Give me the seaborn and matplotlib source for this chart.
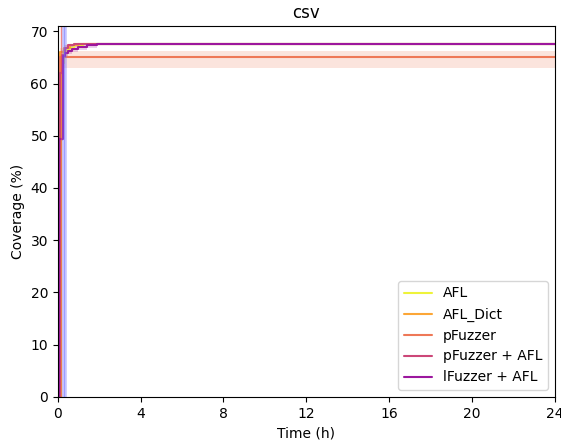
import pandas as pd
import matplotlib
matplotlib.use("Agg")
import matplotlib.pyplot as plt
import seaborn as sns
import numpy as np

# coverage over time for the csv subject
fuzzers = ["AFL", "AFL_Dict", "pFuzzer", "pFuzzer + AFL", "lFuzzer + AFL"]
colors = ["#eef33a", "#fca636", "#ee7857", "#cc4778", "#9c179e"]

afl_t = [0, 0.15, 0.3, 0.5, 0.8, 1.2, 24]
afl_y = [0, 64.0, 66.0, 66.8, 67.3, 67.6, 67.6]
afl_lo = [0, 63.0, 65.0, 66.2, 67.0, 67.6, 67.6]
afl_hi = [0, 65.5, 67.0, 67.4, 67.6, 67.6, 67.6]

dict_t = [0, 0.03, 0.1, 0.3, 0.6, 1.0, 24]
dict_y = [0, 64.5, 66.0, 66.8, 67.3, 67.6, 67.6]
dict_lo = [0, 63.5, 65.2, 66.2, 67.0, 67.6, 67.6]
dict_hi = [0, 65.5, 66.8, 67.3, 67.6, 67.6, 67.6]

pf_t = [0, 0.1, 24]
pf_y = [0, 65.0, 65.0]
pf_lo = [0, 63.0, 63.0]
pf_hi = [0, 66.2, 66.2]

pfa_t = [0, 0.1, 0.2, 0.35, 0.5, 0.8, 24]
pfa_y = [0, 62.0, 65.5, 66.8, 67.3, 67.6, 67.6]
pfa_lo = [0, 61.5, 64.5, 66.0, 67.0, 67.6, 67.6]
pfa_hi = [0, 63.5, 66.5, 67.4, 67.6, 67.6, 67.6]

lfa_t = [0, 0.06, 0.23, 0.35, 0.5, 0.7, 1.0, 1.4, 1.9, 24]
lfa_y = [0, 49.3, 65.3, 65.8, 66.2, 66.6, 67.0, 67.3, 67.6, 67.6]
lfa_lo = [0, 49.0, 64.5, 65.3, 65.7, 66.0, 66.4, 66.8, 67.6, 67.6]
lfa_hi = [0, 49.5, 66.3, 66.8, 67.1, 67.3, 67.5, 67.6, 67.6, 67.6]

series = {
    "AFL": (afl_t, afl_y, afl_lo, afl_hi),
    "AFL_Dict": (dict_t, dict_y, dict_lo, dict_hi),
    "pFuzzer": (pf_t, pf_y, pf_lo, pf_hi),
    "pFuzzer + AFL": (pfa_t, pfa_y, pfa_lo, pfa_hi),
    "lFuzzer + AFL": (lfa_t, lfa_y, lfa_lo, lfa_hi),
}

# markers in time (h)
pf_mark = 0.15
lfa_mark = 0.3


def main():
    # plain matplotlib look: black spines, ticks and text
    sns.set_style("ticks", {"axes.edgecolor": "black", "xtick.color": "black",
                            "ytick.color": "black", "text.color": "black",
                            "axes.labelcolor": "black"})
    plt.rcParams["font.family"] = ["DejaVu Sans"]
    fig = plt.figure(figsize=(5.61, 4.42), dpi=100)
    ax = fig.add_axes([0.103, 0.102, 0.886, 0.839])

    rows = []
    for name in fuzzers:
        t, y, lo, hi = series[name]
        for a, b in zip(t, y):
            rows.append({"Time (h)": a, "Coverage (%)": b, "fuzzer": name})
    df = pd.DataFrame(rows)

    for name, c in zip(fuzzers, colors):
        t, y, lo, hi = series[name]
        ax.fill_between(t, lo, hi, step="post", color=c, alpha=0.2, linewidth=0)

    sns.lineplot(data=df, x="Time (h)", y="Coverage (%)", hue="fuzzer",
                 hue_order=fuzzers, palette=colors, drawstyle="steps-post",
                 errorbar=None, linewidth=1.5, ax=ax)

    ax.axvline(pf_mark, color="#e8554e", alpha=0.7, linewidth=1)
    ax.axvline(lfa_mark, color="#6f6fff", alpha=0.35, linewidth=3.5)
    ax.axvline(lfa_mark, color="#6f6fff", alpha=0.5, linewidth=1)

    ax.set_xlim(0, 24)
    ax.set_ylim(0, 71)
    ax.set_xticks(np.arange(0, 25, 4))
    ax.set_title("csv")
    ax.legend(loc="lower right")
    fig.savefig("out.png")


if __name__ == "__main__":
    main()
